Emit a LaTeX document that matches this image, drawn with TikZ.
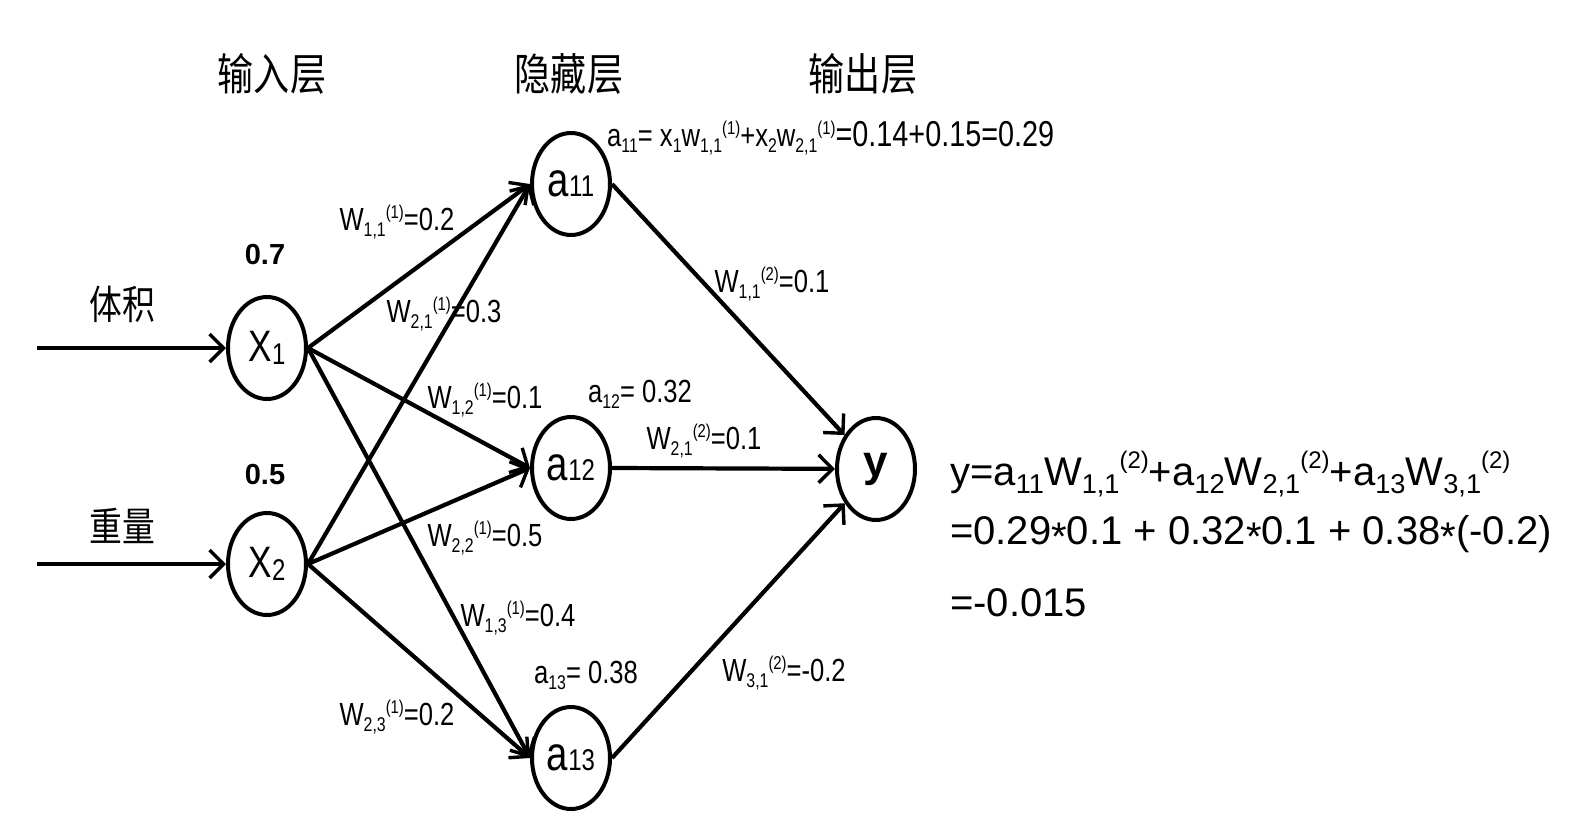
\documentclass[tikz,border=0pt]{standalone}
\usepackage{fontspec}
\usepackage{graphicx}
\usetikzlibrary{shapes.geometric,arrows.meta}
\setmainfont{Liberation Sans}
\newfontfamily\nar{Liberation Sans}[FakeStretch=0.8]
\newfontfamily\cjk{Noto Sans CJK SC}[FakeStretch=0.82]
\newcommand\dn[1]{\raisebox{-0.35ex}{\scalebox{0.62}{#1}}}
\newcommand\up[1]{\raisebox{0.75ex}{\scalebox{0.58}{#1}}}
\newcommand\dnb[1]{\raisebox{-0.4ex}{\scalebox{0.68}{#1}}}
\newcommand\upb[1]{\raisebox{0.8ex}{\scalebox{0.6}{#1}}}
\newcommand\mystar{\raisebox{-0.3ex}{*}}
\begin{document}
\begin{tikzpicture}[x=1pt,y=-1pt,
  neuron/.style={ellipse,draw,line width=4pt,minimum width=78pt,minimum height=102pt,inner sep=0pt},
  conn/.style={line width=4.2pt,-{Straight Barb[length=14pt,width=28pt,line width=3.4pt]}},
  wlab/.style={font=\nar\fontsize{32}{33}\selectfont,inner sep=0pt},
  layer/.style={font=\cjk\fontsize{44}{46}\selectfont,inner sep=0pt},
  feat/.style={font=\cjk\fontsize{40}{42}\selectfont,inner sep=0pt},
  val/.style={font=\bfseries\fontsize{29}{30}\selectfont,inner sep=0pt},
  eq/.style={font=\fontsize{40}{42}\selectfont,inner sep=0pt,anchor=west}]
\useasboundingbox (0,0) rectangle (1580,830);
\fill[white] (0,0) rectangle (1580,830);

% layer titles
\node[layer] (L1) at (272,74) {输入层};
\node[layer] (L2) at (569,74) {隐藏层};
\node[layer] (L3) at (863,74) {输出层};

% neurons
\node[neuron] (x1) at (267,348) {\nar\fontsize{44}{44}\selectfont X\raisebox{-3pt}{\fontsize{30}{30}\selectfont 1}};
\node[neuron] (x2) at (267,564) {\nar\fontsize{44}{44}\selectfont X\raisebox{-3pt}{\fontsize{30}{30}\selectfont 2}};
\node[neuron] (a11) at (571,184) {\nar\fontsize{48}{48}\selectfont a{\fontsize{30}{30}\selectfont 11}};
\node[neuron] (a12) at (571,468) {\nar\fontsize{48}{48}\selectfont a{\fontsize{30}{30}\selectfont 12}};
\node[neuron] (a13) at (571,758) {\nar\fontsize{48}{48}\selectfont a{\fontsize{30}{30}\selectfont 13}};
\node[neuron] (y) at (876,469) {\bfseries\fontsize{44}{44}\selectfont y};

% inputs
\coordinate (in1) at (37,348);
\coordinate (in2) at (37,564);
\draw[conn] (in1) -- (x1.west);
\draw[conn] (in2) -- (x2.west);
\node[feat] (f1) at (122,304) {体积};
\node[feat] (f2) at (122,526) {重量};
\node[val] (v1) at (265,255) {0.7};
\node[val] (v2) at (265,475) {0.5};

% connections
\foreach \s in {x1,x2}{
  \foreach \t in {a11,a12,a13}{
    \draw[conn] (\s.east) -- (\t.west);
  }
}
\foreach \s in {a11,a12,a13}{
  \draw[conn] (\s.east) -- (y);
}

% weight labels
\node[wlab] (w11) at (397,222) {W\dn{1,1}\up{(1)}=0.2};
\node[wlab] (w21) at (444,314) {W\dn{2,1}\up{(1)}=0.3};
\node[wlab] (w12) at (485,400) {W\dn{1,2}\up{(1)}=0.1};
\node[wlab] (w22) at (485,538) {W\dn{2,2}\up{(1)}=0.5};
\node[wlab] (w13) at (518,618) {W\dn{1,3}\up{(1)}=0.4};
\node[wlab] (w23) at (397,717) {W\dn{2,3}\up{(1)}=0.2};
\node[wlab] (v11) at (772,284) {W\dn{1,1}\up{(2)}=0.1};
\node[wlab] (v21) at (704,441) {W\dn{2,1}\up{(2)}=0.1};
\node[wlab] (v31) at (784,673) {W\dn{3,1}\up{(2)}=-0.2};
\node[wlab] (s12) at (640,394) {a\dn{12}= 0.32};
\node[wlab] (s13) at (586,675) {a\dn{13}= 0.38};
\node[wlab,anchor=west] (s11) at (607,138) {a\dn{11}= x\dn{1}w\dn{1,1}\up{(1)}+x\dn{2}w\dn{2,1}\up{(1)}{\fontsize{36}{36}\selectfont =0.14+0.15=0.29}};

% output equation
\node[eq] (e1) at (950,474) {y=a\dnb{11}W\dnb{1,1}\upb{(2)}+a\dnb{12}W\dnb{2,1}\upb{(2)}+a\dnb{13}W\dnb{3,1}\upb{(2)}};
\node[eq] (e2) at (950,534) {=0.29\mystar0.1 + 0.32\mystar0.1 + 0.38\mystar(-0.2)};
\node[eq] (e3) at (950,603) {=-0.015};
\end{tikzpicture}
\end{document}
